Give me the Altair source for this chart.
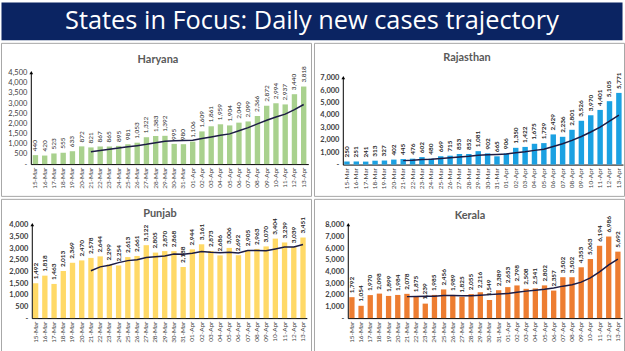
import altair as alt
import pandas as pd

TITLE = "States in Focus: Daily new cases trajectory"

dates = ["15-Mar", "16-Mar", "17-Mar", "18-Mar", "19-Mar", "20-Mar", "21-Mar", "22-Mar",
         "23-Mar", "24-Mar", "25-Mar", "26-Mar", "27-Mar", "28-Mar", "29-Mar", "30-Mar",
         "31-Mar", "01-Apr", "02-Apr", "03-Apr", "04-Apr", "05-Apr", "06-Apr", "07-Apr",
         "08-Apr", "09-Apr", "10-Apr", "11-Apr", "12-Apr", "13-Apr"]

haryana = [440, 420, 523, 555, 633, 872, 821, 867, 865, 895, 981, 1053, 1322, 1383, 1392,
           995, 980, 1106, 1609, 1861, 1959, 1904, 2040, 2099, 2366, 2872, 2994, 2937, 3440, 3818]
rajasthan = [250, 251, 241, 313, 327, 402, 445, 476, 602, 480, 669, 715, 853, 852, 1081,
             902, 665, 906, 1350, 1422, 1675, 1729, 2429, 2236, 2801, 3526, 3970, 4401, 5105, 5771]
punjab = [1492, 1818, 1463, 2013, 2369, 2470, 2578, 2644, 2299, 2254, 2613, 2661, 3122, 2805, 2870,
          2868, 2188, 2944, 3161, 2873, 2686, 3006, 2692, 2905, 2963, 3070, 3404, 3239, 3039, 3451]
kerala = [1792, 1054, 1970, 2098, 1899, 1984, 2078, 1875, 1239, 1985, 2456, 1989, 1825, 2055, 2216,
          1549, 2389, 2653, 2798, 2508, 2541, 2802, 2357, 3502, 3502, 4353, 5063, 6194, 6986, 5692]

FONT = "Lato"
PW, PH = 312, 154


def panel(name, values, color, ymax, ystep, xl, xr, po, yb, yt, tx, ty, bold):
    df = pd.DataFrame({"d": dates, "v": values, "i": list(range(len(dates)))})
    base = alt.Chart(df)
    xscale = alt.Scale(range=[xl, xr], paddingInner=0.42, paddingOuter=po)
    yscale = alt.Scale(domain=[0, ymax], range=[yb, yt], nice=False)
    xaxis = alt.Axis(labelAngle=270, labelAlign="right", labelBaseline="middle",
                     labelFontSize=6.5, labelFont=FONT, labelColor="#404040",
                     labelPadding=3, ticks=False, domainColor="#000000",
                     domainWidth=1, offset=-(PH - yb), labelOverlap=False)
    yaxis = alt.Axis(values=list(range(0, ymax + 1, ystep)), grid=False, ticks=False,
                     labelExpr="datum.value == 0 ? '-' : format(datum.value, ',')",
                     labelFontSize=7.5, labelFont=FONT, labelColor="#404040",
                     labelFontWeight="bold" if bold else "normal",
                     labelOverlap=False, labelBound=False, labelFlush=False,
                     labelPadding=4, domainColor="#000000", domainWidth=1,
                     offset=-xl)
    x = alt.X("d:N", sort=dates, scale=xscale, title=None, axis=xaxis)
    yv = alt.Y("v:Q", scale=yscale, title=None, axis=yaxis)
    ym = alt.Y("ma:Q", scale=yscale, title=None, axis=yaxis)
    bars = base.mark_bar(color=color).encode(x=x, y=yv)
    labels = base.mark_text(angle=270, align="left", baseline="middle", dx=4,
                            fontSize=6.5, font=FONT, color="#262626",
                            fontWeight="bold" if bold else "normal").encode(
        x=x, y=yv, text=alt.Text("v:Q", format=","))
    line = base.transform_window(
        ma="mean(v)", n="row_number()", frame=[-6, 0], sort=[alt.SortField("i")]
    ).transform_filter("datum.n >= 7").mark_line(color="#1c1c44", strokeWidth=1.5).encode(
        x=x, y=ym)
    one = alt.Chart(pd.DataFrame({"t": [name]}))
    ttl = one.mark_text(font=FONT, fontSize=11, fontWeight="bold", color="#595959").encode(
        text="t:N", x=alt.value(tx), y=alt.value(ty))
    arrow = one.mark_point(shape="triangle-up", filled=True, size=14, color="#000000",
                           opacity=1).encode(x=alt.value(xl + 0.5), y=alt.value(yt))
    return alt.layer(bars, line, labels, ttl, arrow).properties(
        width=PW, height=PH, view=alt.ViewBackground(stroke="#a6a6a6", strokeWidth=1))


har = panel("Haryana", haryana, "#a9d18e", 4500, 500, 30, 309.3, 0.21, 122, 30, 158, 17, False)
raj = panel("Rajasthan", rajasthan, "#1ba1e2", 7000, 1000, 29, 311, 0.15, 122.5, 35, 154, 15, True)
pun = panel("Punjab", punjab, "#ffd966", 4000, 500, 31, 307.8, 0.125, 120, 26, 160, 15, True)
ker = panel("Kerala", kerala, "#ed7d31", 8000, 1000, 34, 310, 0.16, 120, 26, 157, 17, True)

head = alt.Chart(pd.DataFrame({"t": [TITLE]})).mark_text(
    font="Open Sans", fontSize=25.5, color="#ffffff", baseline="middle").encode(
    text="t:N", x=alt.value(313), y=alt.value(19)).properties(
    width=625, height=38, view=alt.ViewBackground(fill="#0b2462", stroke="transparent"))

row1 = alt.hconcat(har, raj, spacing=1)
row2 = alt.hconcat(pun, ker, spacing=1)

chart = alt.vconcat(head, row1, row2, spacing=1).properties(
    padding=0, background="#ffffff"
).configure_concat(spacing=1)

chart.save("out.html", embed_options={"renderer": "svg", "actions": False})
